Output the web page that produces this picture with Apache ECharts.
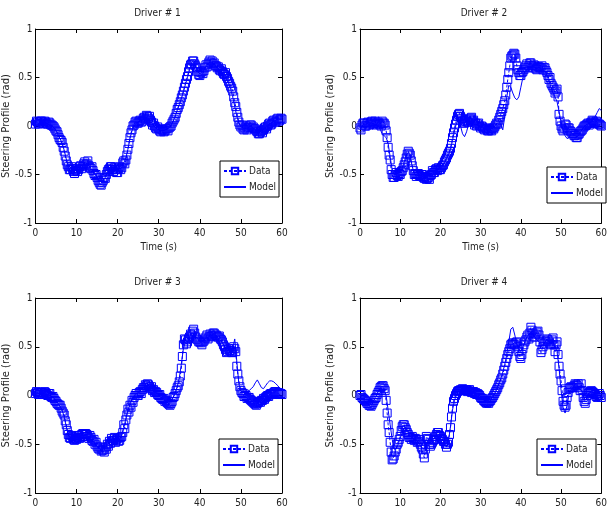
<!DOCTYPE html>
<html>
<head>
<meta charset="utf-8">
<script src="https://cdn.jsdelivr.net/npm/echarts@6/dist/echarts.min.js"></script>
<style>
html,body{margin:0;padding:0;background:#fff;}
#chart{width:610px;height:511px;}
</style>
</head>
<body>
<div id="chart"></div>
<script>
// ---- data ----
var titles = ['Driver # 1', 'Driver # 2', 'Driver # 3', 'Driver # 4'];
var xTicks = [0, 10, 20, 30, 40, 50, 60];
var yTicks = [-1, -0.5, 0, 0.5, 1];
var dataStep = 0.25;   // measured samples every 0.25 s
var modelStep = 0.5;   // model output every 0.5 s

var data1 = [
 0.02, 0.05, 0.04, 0.02, 0.03, 0.05, 0.05, 0.03, 0.03, 0.05,
 0.04, 0.02, 0.02, 0.04, 0.03, 0.01, 0.01, 0.0, -0.01, -0.03,
 -0.05, -0.06, -0.09, -0.12, -0.14, -0.15, -0.17, -0.22, -0.26, -0.31,
 -0.36, -0.4, -0.42, -0.45, -0.45, -0.42, -0.44, -0.47, -0.49, -0.46,
 -0.44, -0.47, -0.45, -0.42, -0.41, -0.44, -0.42, -0.39, -0.37, -0.4,
 -0.39, -0.36, -0.41, -0.43, -0.44, -0.42, -0.46, -0.49, -0.51, -0.5,
 -0.53, -0.56, -0.58, -0.6, -0.61, -0.58, -0.56, -0.53, -0.54, -0.5,
 -0.47, -0.45, -0.44, -0.42, -0.42, -0.45, -0.47, -0.43, -0.45, -0.48,
 -0.48, -0.44, -0.42, -0.45, -0.43, -0.38, -0.36, -0.39, -0.35, -0.3,
 -0.24, -0.18, -0.12, -0.07, -0.04, 0.0, 0.01, 0.04, 0.05, 0.03,
 0.03, 0.05, 0.06, 0.04, 0.05, 0.08, 0.09, 0.07, 0.11, 0.1,
 0.08, 0.1, 0.06, 0.04, 0.01, 0.03, 0.0, -0.02, -0.03, -0.01,
 -0.03, -0.05, -0.06, -0.04, -0.04, -0.06, -0.05, -0.03, -0.03, -0.05,
 -0.02, -0.01, 0.0, 0.03, 0.05, 0.07, 0.09, 0.13, 0.17, 0.19,
 0.22, 0.25, 0.29, 0.32, 0.36, 0.4, 0.44, 0.48, 0.51, 0.56,
 0.6, 0.63, 0.64, 0.67, 0.67, 0.64, 0.62, 0.6, 0.56, 0.53,
 0.52, 0.55, 0.56, 0.54, 0.57, 0.6, 0.63, 0.61, 0.64, 0.66,
 0.68, 0.65, 0.67, 0.64, 0.65, 0.62, 0.62, 0.6, 0.61, 0.58,
 0.57, 0.59, 0.56, 0.54, 0.53, 0.55, 0.51, 0.49, 0.46, 0.44,
 0.41, 0.39, 0.36, 0.3, 0.24, 0.2, 0.14, 0.09, 0.04, 0.01,
 -0.01, 0.01, -0.03, -0.04, -0.02, 0.0, -0.04, -0.02, -0.01, 0.01,
 0.01, -0.02, -0.01, -0.03, -0.03, -0.05, -0.06, -0.08, -0.08, -0.06,
 -0.05, -0.07, -0.04, -0.02, -0.01, -0.03, 0.0, 0.02, 0.03, 0.01,
 0.02, 0.05, 0.06, 0.04, 0.04, 0.07, 0.08, 0.05, 0.06, 0.08,
 0.07
];
var model1 = [
 0.0, 0.01, 0.02, 0.03, 0.03, 0.03, 0.02, 0.01, 0.0, -0.02,
 -0.05, -0.09, -0.13, -0.18, -0.25, -0.34, -0.4, -0.43, -0.45, -0.46,
 -0.45, -0.43, -0.41, -0.4, -0.39, -0.39, -0.41, -0.44, -0.47, -0.5,
 -0.53, -0.56, -0.58, -0.57, -0.53, -0.48, -0.45, -0.44, -0.45, -0.46,
 -0.45, -0.43, -0.41, -0.38, -0.33, -0.24, -0.13, -0.05, 0.0, 0.03,
 0.04, 0.05, 0.06, 0.08, 0.09, 0.08, 0.05, 0.02, -0.01, -0.03,
 -0.04, -0.05, -0.05, -0.04, -0.03, -0.02, 0.01, 0.05, 0.1, 0.16,
 0.22, 0.28, 0.35, 0.43, 0.5, 0.58, 0.63, 0.65, 0.61, 0.56,
 0.54, 0.55, 0.58, 0.61, 0.64, 0.66, 0.66, 0.64, 0.61, 0.59,
 0.57, 0.55, 0.52, 0.48, 0.44, 0.38, 0.3, 0.2, 0.1, 0.03,
 -0.01, -0.02, -0.02, -0.02, -0.01, 0.0, -0.02, -0.04, -0.06, -0.07,
 -0.05, -0.03, -0.01, 0.01, 0.02, 0.03, 0.05, 0.06, 0.07, 0.07,
 0.07
];
var data2 = [
 -0.02, -0.04, 0.01, 0.03, 0.03, 0.0, 0.0, 0.03, 0.04, 0.01,
 0.02, 0.04, 0.05, 0.02, 0.03, 0.05, 0.01, 0.03, 0.04, 0.02,
 0.02, 0.0, 0.05, 0.03, 0.03, 0.01, -0.05, -0.12, -0.22, -0.3,
 -0.35, -0.45, -0.5, -0.53, -0.53, -0.5, -0.48, -0.51, -0.52, -0.49,
 -0.5, -0.47, -0.46, -0.43, -0.4, -0.37, -0.33, -0.29, -0.26, -0.28,
 -0.3, -0.36, -0.41, -0.46, -0.5, -0.49, -0.52, -0.5, -0.49, -0.51,
 -0.52, -0.5, -0.5, -0.53, -0.54, -0.52, -0.55, -0.54, -0.53, -0.55,
 -0.51, -0.5, -0.46, -0.48, -0.48, -0.45, -0.44, -0.46, -0.43, -0.45,
 -0.45, -0.43, -0.41, -0.4, -0.37, -0.35, -0.33, -0.3, -0.28, -0.26,
 -0.23, -0.18, -0.12, -0.07, -0.02, 0.02, 0.06, 0.1, 0.12, 0.13,
 0.1, 0.08, 0.05, 0.03, 0.03, 0.05, 0.06, 0.04, 0.04, 0.07,
 0.08, 0.09, 0.05, 0.06, 0.01, 0.03, 0.0, 0.02, 0.03, 0.0,
 -0.02, 0.0, -0.01, -0.03, -0.04, -0.02, -0.03, -0.05, -0.05, -0.03,
 -0.04, -0.05, -0.02, -0.03, -0.01, 0.01, 0.03, 0.02, 0.06, 0.09,
 0.12, 0.15, 0.18, 0.22, 0.26, 0.32, 0.4, 0.48, 0.55, 0.62,
 0.7, 0.72, 0.73, 0.75, 0.74, 0.7, 0.62, 0.58, 0.55, 0.52,
 0.52, 0.55, 0.56, 0.58, 0.6, 0.62, 0.64, 0.6, 0.62, 0.65,
 0.65, 0.62, 0.6, 0.63, 0.62, 0.59, 0.58, 0.61, 0.61, 0.6,
 0.6, 0.62, 0.58, 0.6, 0.6, 0.57, 0.55, 0.52, 0.48, 0.5,
 0.44, 0.42, 0.4, 0.38, 0.34, 0.36, 0.38, 0.3, 0.12, 0.05,
 0.0, -0.03, -0.05, -0.02, 0.02, 0.01, -0.04, -0.02, -0.02, -0.05,
 -0.06, -0.08, -0.08, -0.1, -0.1, -0.12, -0.12, -0.09, -0.08, -0.06,
 -0.05, -0.04, -0.02, 0.0, 0.0, 0.01, 0.02, 0.03, 0.01, 0.03,
 0.04, 0.06, 0.05, 0.03, 0.03, 0.05, 0.04, 0.02, 0.02, 0.01,
 0.0
];
var model2 = [
 -0.04, 0.0, 0.02, 0.02, 0.03, 0.03, 0.03, 0.02, 0.01, 0.0,
 -0.03, -0.08, -0.1, -0.12, -0.18, -0.32, -0.45, -0.5, -0.5, -0.49,
 -0.47, -0.43, -0.37, -0.3, -0.27, -0.32, -0.42, -0.49, -0.51, -0.51,
 -0.51, -0.52, -0.53, -0.53, -0.52, -0.5, -0.48, -0.47, -0.45, -0.44,
 -0.43, -0.41, -0.38, -0.34, -0.3, -0.24, -0.15, -0.05, 0.03, 0.06,
 0.0, -0.08, -0.11, -0.06, 0.02, 0.05, 0.05, 0.03, 0.01, 0.0,
 -0.01, -0.02, -0.03, -0.03, -0.03, -0.03, -0.02, 0.0, 0.02, 0.04,
 0.02, -0.04, 0.1, 0.3, 0.42, 0.4, 0.34, 0.29, 0.27, 0.3,
 0.4, 0.5, 0.56, 0.58, 0.6, 0.6, 0.61, 0.6, 0.6, 0.6,
 0.59, 0.58, 0.56, 0.52, 0.46, 0.4, 0.34, 0.3, 0.25, 0.15,
 0.04, -0.04, -0.1, -0.13, -0.12, -0.08, -0.08, -0.1, -0.11, -0.09,
 -0.05, -0.02, 0.0, 0.02, 0.03, 0.04, 0.06, 0.1, 0.14, 0.18,
 0.16
];
var data3 = [
 0.02, 0.04, 0.03, 0.01, 0.01, 0.03, 0.03, 0.01, 0.02, 0.04,
 0.03, 0.01, 0.0, 0.02, 0.02, -0.01, -0.02, -0.01, -0.03, -0.05,
 -0.06, -0.08, -0.09, -0.1, -0.1, -0.13, -0.16, -0.18, -0.2, -0.26,
 -0.3, -0.36, -0.4, -0.43, -0.44, -0.41, -0.42, -0.45, -0.46, -0.44,
 -0.45, -0.43, -0.41, -0.44, -0.43, -0.4, -0.39, -0.42, -0.42, -0.39,
 -0.4, -0.42, -0.44, -0.41, -0.43, -0.46, -0.47, -0.45, -0.5, -0.48,
 -0.52, -0.54, -0.55, -0.53, -0.57, -0.56, -0.56, -0.58, -0.53, -0.55,
 -0.5, -0.52, -0.47, -0.49, -0.44, -0.46, -0.46, -0.43, -0.48, -0.45,
 -0.44, -0.47, -0.46, -0.43, -0.42, -0.38, -0.3, -0.34, -0.25, -0.2,
 -0.14, -0.17, -0.1, -0.12, -0.05, -0.07, -0.02, 0.0, 0.02, 0.0,
 0.0, 0.03, 0.04, 0.02, 0.06, 0.08, 0.08, 0.11, 0.1, 0.12,
 0.11, 0.09, 0.07, 0.09, 0.05, 0.06, 0.03, 0.04, 0.03, 0.01,
 0.0, 0.01, -0.02, -0.03, -0.04, -0.03, -0.06, -0.05, -0.07, -0.08,
 -0.09, -0.1, -0.08, -0.06, -0.02, -0.01, 0.02, 0.05, 0.08, 0.1,
 0.14, 0.2, 0.28, 0.4, 0.52, 0.58, 0.57, 0.53, 0.55, 0.58,
 0.6, 0.63, 0.62, 0.66, 0.68, 0.64, 0.6, 0.58, 0.57, 0.55,
 0.55, 0.54, 0.52, 0.55, 0.56, 0.58, 0.6, 0.62, 0.58, 0.6,
 0.63, 0.61, 0.61, 0.64, 0.64, 0.62, 0.62, 0.6, 0.6, 0.61,
 0.58, 0.57, 0.55, 0.52, 0.5, 0.47, 0.44, 0.45, 0.48, 0.46,
 0.46, 0.44, 0.44, 0.5, 0.48, 0.45, 0.3, 0.22, 0.15, 0.09,
 0.05, 0.03, 0.02, -0.01, -0.01, 0.0, -0.03, -0.02, -0.02, -0.04,
 -0.05, -0.06, -0.07, -0.08, -0.09, -0.1, -0.08, -0.07, -0.06, -0.07,
 -0.05, -0.05, -0.03, -0.04, -0.02, -0.01, 0.0, -0.01, 0.01, 0.02,
 0.02, 0.01, 0.03, 0.04, 0.04, 0.02, 0.02, 0.03, 0.01, 0.02,
 0.01
];
var model3 = [
 0.01, 0.02, 0.02, 0.02, 0.02, 0.01, 0.01, 0.0, -0.01, -0.03,
 -0.05, -0.08, -0.11, -0.15, -0.22, -0.32, -0.4, -0.43, -0.44, -0.44,
 -0.43, -0.42, -0.41, -0.41, -0.41, -0.42, -0.43, -0.45, -0.47, -0.5,
 -0.52, -0.54, -0.56, -0.55, -0.53, -0.5, -0.48, -0.46, -0.46, -0.45,
 -0.45, -0.44, -0.4, -0.33, -0.24, -0.15, -0.09, -0.04, 0.0, 0.02,
 0.03, 0.05, 0.07, 0.09, 0.1, 0.1, 0.08, 0.06, 0.04, 0.02,
 0.0, -0.02, -0.04, -0.05, -0.07, -0.08, -0.06, -0.02, 0.03, 0.09,
 0.18, 0.32, 0.48, 0.55, 0.56, 0.58, 0.6, 0.62, 0.6, 0.58,
 0.56, 0.55, 0.57, 0.59, 0.6, 0.61, 0.62, 0.62, 0.61, 0.59,
 0.57, 0.54, 0.5, 0.47, 0.46, 0.46, 0.48, 0.58, 0.35, 0.12,
 0.04, 0.03, 0.04, 0.06, 0.05, 0.07, 0.09, 0.13, 0.16, 0.12,
 0.08, 0.07, 0.1, 0.13, 0.15, 0.15, 0.14, 0.12, 0.1, 0.07,
 0.05
];
var data4 = [
 0.0, 0.01, -0.02, -0.03, -0.04, -0.05, -0.06, -0.08, -0.08, -0.1,
 -0.1, -0.11, -0.09, -0.07, -0.05, -0.03, -0.02, 0.01, 0.03, 0.05,
 0.08, 0.09, 0.1, 0.1, 0.07, 0.05, -0.05, -0.18, -0.3, -0.38,
 -0.48, -0.58, -0.66, -0.65, -0.62, -0.58, -0.55, -0.5, -0.48, -0.45,
 -0.42, -0.36, -0.32, -0.3, -0.3, -0.33, -0.35, -0.38, -0.4, -0.43,
 -0.43, -0.45, -0.42, -0.44, -0.46, -0.44, -0.45, -0.48, -0.47, -0.45,
 -0.5, -0.53, -0.55, -0.6, -0.64, -0.55, -0.42, -0.44, -0.45, -0.5,
 -0.52, -0.5, -0.48, -0.46, -0.45, -0.42, -0.4, -0.38, -0.38, -0.41,
 -0.42, -0.44, -0.45, -0.47, -0.47, -0.5, -0.53, -0.5, -0.48, -0.4,
 -0.33, -0.22, -0.13, -0.06, -0.03, 0.0, 0.02, 0.04, 0.05, 0.05,
 0.06, 0.05, 0.07, 0.06, 0.05, 0.06, 0.06, 0.04, 0.05, 0.06,
 0.04, 0.03, 0.04, 0.04, 0.02, 0.03, 0.01, 0.02, 0.01, 0.0,
 -0.02, -0.03, -0.03, -0.05, -0.06, -0.07, -0.08, -0.07, -0.08, -0.06,
 -0.05, -0.03, -0.02, 0.0, 0.02, 0.04, 0.06, 0.08, 0.11, 0.13,
 0.16, 0.18, 0.22, 0.26, 0.3, 0.34, 0.38, 0.42, 0.45, 0.48,
 0.52, 0.53, 0.54, 0.52, 0.52, 0.54, 0.55, 0.5, 0.45, 0.4,
 0.38, 0.42, 0.48, 0.52, 0.55, 0.57, 0.6, 0.62, 0.58, 0.64,
 0.7, 0.67, 0.64, 0.6, 0.6, 0.63, 0.65, 0.66, 0.62, 0.55,
 0.44, 0.47, 0.5, 0.53, 0.56, 0.55, 0.58, 0.57, 0.55, 0.53,
 0.52, 0.57, 0.59, 0.52, 0.45, 0.52, 0.55, 0.42, 0.3, 0.22,
 0.15, 0.05, -0.06, -0.1, -0.12, -0.1, -0.02, 0.03, 0.07, 0.08,
 0.09, 0.08, 0.08, 0.1, 0.12, 0.11, 0.1, 0.12, 0.08, 0.05,
 0.12, 0.05, -0.02, -0.06, -0.08, -0.04, 0.0, 0.02, 0.03, 0.04,
 0.05, 0.04, 0.03, 0.02, 0.01, -0.01, -0.02, 0.0, 0.02, 0.0,
 -0.02
];
var model4 = [
 -0.01, -0.03, -0.05, -0.07, -0.09, -0.09, -0.07, -0.04, 0.0, 0.04,
 0.07, 0.08, 0.06, 0.0, -0.15, -0.3, -0.45, -0.55, -0.55, -0.5,
 -0.44, -0.38, -0.33, -0.33, -0.38, -0.42, -0.44, -0.45, -0.46, -0.48,
 -0.51, -0.54, -0.55, -0.5, -0.48, -0.48, -0.46, -0.43, -0.41, -0.4,
 -0.41, -0.44, -0.47, -0.5, -0.46, -0.32, -0.15, -0.05, 0.01, 0.04,
 0.05, 0.06, 0.06, 0.05, 0.05, 0.04, 0.04, 0.03, 0.02, 0.01,
 -0.01, -0.03, -0.05, -0.07, -0.07, -0.05, -0.02, 0.02, 0.07, 0.12,
 0.17, 0.24, 0.32, 0.42, 0.55, 0.68, 0.7, 0.62, 0.52, 0.48,
 0.45, 0.5, 0.55, 0.6, 0.63, 0.65, 0.63, 0.6, 0.57, 0.55,
 0.5, 0.52, 0.55, 0.57, 0.56, 0.54, 0.55, 0.5, 0.45, 0.28,
 0.05, -0.12, -0.18, -0.1, 0.02, 0.06, 0.08, 0.09, 0.08, 0.07,
 0.06, 0.0, -0.05, -0.02, 0.02, 0.04, 0.03, 0.01, 0.0, 0.0,
 -0.01
];

var dataSets = [data1, data2, data3, data4];
var modelSets = [model1, model2, model3, model4];

// ---- layout ----
var grids = [
  {left: 33, top: 29, width: 249, height: 194},
  {left: 360, top: 29, width: 248, height: 194},
  {left: 33, top: 298, width: 249, height: 195},
  {left: 360, top: 298, width: 248, height: 195}
];
var legendPos = [
  {left: 220, top: 161},
  {left: 547, top: 167},
  {left: 219, top: 439},
  {left: 537, top: 439}
];

var BLUE = '#0000ff';
var FONT = '"Liberation Sans Narrow", "Arial Narrow", "DejaVu Sans Condensed", sans-serif';

function pairs(arr, step) {
  return arr.map(function (v, i) { return [i * step, v]; });
}

var xAxes = [], yAxes = [], series = [], legends = [], graphics = [];
grids.forEach(function (g, i) {
  var showTimeName = i < 2;
  xAxes.push({
    type: 'value', gridIndex: i, min: xTicks[0], max: xTicks[xTicks.length - 1], interval: 10,
    position: 'bottom',
    name: showTimeName ? 'Time (s)' : '',
    nameLocation: 'middle', nameGap: 19,
    nameTextStyle: {fontFamily: FONT, fontSize: 10, color: '#222'},
    axisLine: {show: true, onZero: false, lineStyle: {color: '#000', width: 1}},
    axisTick: {show: true, inside: true, length: 4, lineStyle: {color: '#000'}},
    axisLabel: {show: true, margin: 5, fontFamily: FONT, fontSize: 10, color: '#222'},
    splitLine: {show: false}
  });
  xAxes.push({
    type: 'value', gridIndex: i, min: xTicks[0], max: xTicks[xTicks.length - 1], interval: 10,
    position: 'top',
    axisLine: {show: true, onZero: false, lineStyle: {color: '#000', width: 1}},
    axisTick: {show: true, inside: true, length: 4, lineStyle: {color: '#000'}},
    axisLabel: {show: false},
    splitLine: {show: false}
  });
  yAxes.push({
    type: 'value', gridIndex: i, min: yTicks[0], max: yTicks[yTicks.length - 1], interval: 0.5,
    position: 'left',
    name: 'Steering Profile (rad)',
    nameLocation: 'middle', nameGap: i % 2 === 0 ? 16 : 17, nameRotate: 90,
    nameTextStyle: {fontFamily: '"DejaVu Sans", sans-serif', fontSize: 10, color: '#222'},
    axisLine: {show: true, onZero: false, lineStyle: {color: '#000', width: 1}},
    axisTick: {show: true, inside: true, length: 4, lineStyle: {color: '#000'}},
    axisLabel: {show: true, margin: 3, fontFamily: FONT, fontSize: 10, color: '#222',
      formatter: function (v) { return String(v); }},
    splitLine: {show: false}
  });
  yAxes.push({
    type: 'value', gridIndex: i, min: yTicks[0], max: yTicks[yTicks.length - 1], interval: 0.5,
    position: 'right',
    axisLine: {show: true, onZero: false, lineStyle: {color: '#000', width: 1}},
    axisTick: {show: true, inside: true, length: 4, lineStyle: {color: '#000'}},
    axisLabel: {show: false},
    splitLine: {show: false}
  });
  series.push({
    type: 'line', name: 'Data', xAxisIndex: 2 * i, yAxisIndex: 2 * i,
    data: pairs(dataSets[i], dataStep),
    symbol: 'rect', symbolSize: 8, showSymbol: true, showAllSymbol: true,
    lineStyle: {color: BLUE, width: 1, type: [3, 2]},
    itemStyle: {color: 'rgba(0,0,255,0)', borderColor: BLUE, borderWidth: 1},
    emphasis: {disabled: true},
    z: 2
  });
  series.push({
    type: 'line', name: 'Model', xAxisIndex: 2 * i, yAxisIndex: 2 * i,
    data: pairs(modelSets[i], modelStep),
    symbol: 'none',
    lineStyle: {color: BLUE, width: 1},
    itemStyle: {color: BLUE},
    emphasis: {disabled: true},
    z: 3
  });
  legends.push({
    left: legendPos[i].left, top: legendPos[i].top,
    orient: 'vertical',
    data: [
      {name: 'Data'},
      {name: 'Model', itemStyle: {opacity: 0, color: 'rgba(0,0,0,0)', borderWidth: 0}}
    ],
    backgroundColor: '#fff',
    borderColor: '#000', borderWidth: 1, borderRadius: 0,
    padding: [5, 3, 5, 3],
    itemGap: 6, itemWidth: 22, itemHeight: 8,
    textStyle: {fontFamily: FONT, fontSize: 10, color: '#222', padding: [0, 0, 0, -2]},
    selectedMode: false
  });
  graphics.push({
    type: 'text',
    x: g.left + g.width / 2,
    y: g.top - 16,
    style: {text: titles[i], fontFamily: FONT, fontSize: 10, fill: '#222',
      textAlign: 'center', textVerticalAlign: 'middle'}
  });
});

var chart = echarts.init(document.getElementById('chart'), null, {renderer: 'canvas'});
chart.setOption({
  animation: false,
  backgroundColor: '#fff',
  grid: grids.map(function (g) { return Object.assign({containLabel: false}, g); }),
  xAxis: xAxes,
  yAxis: yAxes,
  legend: legends,
  series: series,
  graphic: graphics
});
</script>
</body>
</html>
